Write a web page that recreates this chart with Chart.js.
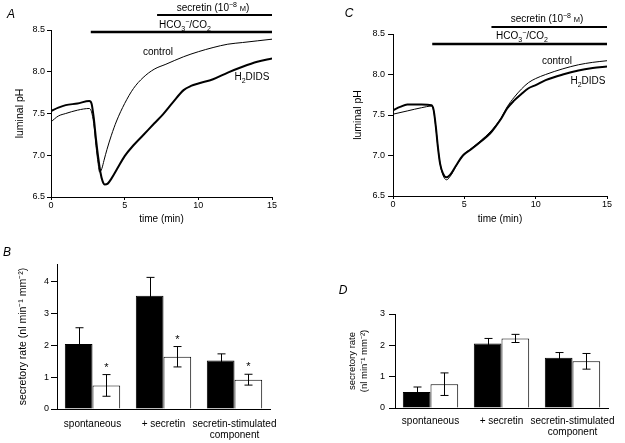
<!DOCTYPE html>
<html>
<head>
<meta charset="utf-8">
<script src="https://cdn.jsdelivr.net/npm/chart.js@4.4.1/dist/chart.umd.min.js"></script>
<style>
  body { margin: 0; background: #fff; }
  #fig { position: relative; width: 625px; height: 443px; font-family: 'Liberation Sans', Arial, sans-serif; color: #000; overflow: hidden; }
  canvas { position: absolute; }
  .lbl { position: absolute; transform: translate(-50%, -50%); white-space: nowrap; font-size: 10px; line-height: 1; }
  .panel { position: absolute; transform: translate(-50%, -50%); font-size: 12px; font-style: italic; line-height: 1; }
  sub, sup { font-size: 70%; line-height: 0; }
  .sc { font-size: 75%; }
</style>
</head>
<body>
<div id="fig">
  <canvas id="chartA" width="310" height="230" style="left:0;top:0"></canvas>
  <canvas id="chartC" width="315" height="230" style="left:310px;top:0"></canvas>
  <canvas id="chartB" width="310" height="203" style="left:0;top:240px"></canvas>
  <canvas id="chartD" width="305" height="203" style="left:320px;top:240px"></canvas>

  <div class="panel" style="left:11px;top:14px">A</div>
  <div class="panel" style="left:349px;top:13px">C</div>
  <div class="panel" style="left:7px;top:252px">B</div>
  <div class="panel" style="left:343px;top:290px">D</div>

  <div class="lbl" style="left:213px;top:8px">secretin (10<sup>−8</sup> <span class="sc">M</span>)</div>
  <div class="lbl" style="left:185px;top:25px">HCO<sub>3</sub><sup>−</sup>/CO<sub>2</sub></div>
  <div class="lbl" style="left:158px;top:52px">control</div>
  <div class="lbl" style="left:252px;top:77px">H<sub>2</sub>DIDS</div>

  <div class="lbl" style="left:547px;top:19px">secretin (10<sup>−8</sup> <span class="sc">M</span>)</div>
  <div class="lbl" style="left:522px;top:36px">HCO<sub>3</sub><sup>−</sup>/CO<sub>2</sub></div>
  <div class="lbl" style="left:557px;top:61px">control</div>
  <div class="lbl" style="left:588px;top:81px">H<sub>2</sub>DIDS</div>
</div>
<script>
// panel A traces
const tA_control = [0, 0.5, 1, 1.8, 2.6, 2.75, 2.9, 3.05, 3.2, 3.3, 3.45, 3.6, 3.8, 4.1, 4.45, 5, 5.6, 6.25, 7, 7.8, 9, 10, 11, 12, 13, 14, 15];
const phA_control = [7.40, 7.47, 7.50, 7.54, 7.56, 7.52, 7.38, 7.12, 6.90, 6.80, 6.84, 6.94, 7.07, 7.24, 7.41, 7.62, 7.80, 7.93, 8.03, 8.09, 8.18, 8.24, 8.29, 8.33, 8.35, 8.37, 8.39];
const tA_dids = [0, 0.5, 1, 1.8, 2.6, 2.75, 2.9, 3.05, 3.2, 3.35, 3.5, 3.65, 3.85, 4.1, 4.5, 5, 5.6, 6.25, 7, 7.6, 8.3, 9, 9.5, 10, 11, 12, 13, 14, 15];
const phA_dids = [7.53, 7.57, 7.60, 7.62, 7.65, 7.62, 7.45, 7.20, 6.98, 6.80, 6.69, 6.65, 6.66, 6.72, 6.84, 6.99, 7.12, 7.24, 7.38, 7.49, 7.64, 7.78, 7.83, 7.86, 7.91, 7.99, 8.06, 8.12, 8.16];

// panel C traces
const tC_control = [0, 1, 2, 2.7, 2.85, 3.0, 3.15, 3.3, 3.5, 3.75, 4.0, 4.4, 4.9, 5.5, 6.2, 6.8, 7.2, 7.6, 8.0, 8.5, 9, 9.5, 10, 10.7, 11.9, 13, 14, 15];
const phC_control = [7.51, 7.55, 7.59, 7.61, 7.55, 7.35, 7.10, 6.90, 6.76, 6.70, 6.74, 6.86, 7.00, 7.09, 7.19, 7.29, 7.37, 7.47, 7.60, 7.72, 7.82, 7.90, 7.95, 8.00, 8.07, 8.12, 8.15, 8.17];
const tC_dids = [0, 0.5, 1, 2, 2.7, 2.85, 3.0, 3.15, 3.3, 3.5, 3.75, 4.0, 4.4, 4.9, 5.5, 6.2, 6.8, 7.2, 7.6, 8.0, 8.5, 9, 9.5, 10, 10.7, 11.9, 13, 14, 15];
const phC_dids = [7.56, 7.60, 7.63, 7.63, 7.62, 7.56, 7.36, 7.10, 6.90, 6.78, 6.73, 6.76, 6.87, 7.00, 7.08, 7.18, 7.27, 7.36, 7.46, 7.58, 7.68, 7.76, 7.83, 7.87, 7.93, 8.00, 8.05, 8.08, 8.10];

const timeTicks = [0, 5, 10, 15];
const phTicks = [6.5, 7.0, 7.5, 8.0, 8.5];

// perfusion periods (min)
const hco3A = [2.7, 15];
const secretinA = [7.2, 15];
const hco3C = [2.75, 15];
const secretinC = [6.9, 15];

// secretory rates
const categories = ['spontaneous', '+ secretin', ['secretin-stimulated', 'component']];
const rateB_control = [2.04, 3.55, 1.52];
const semB_control = [0.51, 0.58, 0.21];
const rateB_dids = [0.74, 1.64, 0.92];
const semB_dids = [0.34, 0.32, 0.17];
const starsB = [true, true, true];
const rateTicksB = [0, 1, 2, 3, 4];

const rateD_control = [0.51, 2.06, 1.60];
const semD_control = [0.16, 0.16, 0.17];
const rateD_dids = [0.76, 2.22, 1.49];
const semD_dids = [0.36, 0.13, 0.25];
const rateTicksD = [0, 1, 2, 3];

Chart.defaults.font.family = "'Liberation Sans', Arial, sans-serif";
Chart.defaults.color = '#000';
Chart.defaults.animation = false;

const periodBars = {
  id: 'periodBars',
  afterDatasetsDraw(chart, args, opts) {
    const ctx = chart.ctx;
    const x = chart.scales.x;
    ctx.save();
    ctx.strokeStyle = '#000';
    opts.bars.forEach(b => {
      ctx.lineWidth = b.width;
      ctx.beginPath();
      ctx.moveTo(x.getPixelForValue(b.range[0]), b.y);
      ctx.lineTo(x.getPixelForValue(b.range[1]), b.y);
      ctx.stroke();
    });
    ctx.restore();
  }
};

const errorBars = {
  id: 'errorBars',
  afterDatasetsDraw(chart) {
    const ctx = chart.ctx;
    const y = chart.scales.y;
    ctx.save();
    ctx.strokeStyle = '#000';
    ctx.fillStyle = '#000';
    ctx.lineWidth = 1;
    chart.data.datasets.forEach((ds, i) => {
      chart.getDatasetMeta(i).data.forEach((bar, j) => {
        const top = y.getPixelForValue(ds.data[j] + ds.sem[j]);
        const bot = y.getPixelForValue(ds.data[j] - ds.sem[j]);
        const cx = Math.round(bar.x) + 0.5;
        ctx.beginPath();
        ctx.moveTo(cx, top); ctx.lineTo(cx, bot);
        ctx.moveTo(cx - 4, top); ctx.lineTo(cx + 4, top);
        ctx.moveTo(cx - 4, bot); ctx.lineTo(cx + 4, bot);
        ctx.stroke();
        if (ds.stars && ds.stars[j]) {
          ctx.font = "11px 'Liberation Sans', Arial, sans-serif";
          ctx.textAlign = 'center';
          ctx.textBaseline = 'middle';
          ctx.fillText('*', cx, top - 7);
        }
      });
    });
    ctx.restore();
  }
};

function xy(ts, vs) {
  return ts.map((t, i) => ({ x: t, y: vs[i] }));
}

function phChart(id, ctrl, dids, pad, yWidth, bars) {
  return new Chart(document.getElementById(id), {
    type: 'line',
    data: {
      datasets: [
        { label: 'control', data: ctrl, borderColor: '#000', borderWidth: 1, pointRadius: 0, cubicInterpolationMode: 'monotone' },
        { label: 'H2DIDS', data: dids, borderColor: '#000', borderWidth: 2, pointRadius: 0, cubicInterpolationMode: 'monotone' }
      ]
    },
    options: {
      responsive: false,
      layout: { padding: pad },
      plugins: { legend: { display: false }, tooltip: { enabled: false }, periodBars: { bars: bars } },
      scales: {
        x: {
          type: 'linear', min: 0, max: 15,
          afterBuildTicks: s => { s.ticks = timeTicks.map(v => ({ value: v })); },
          afterFit: s => { s.height = 230 - pad.top - pad.chartH; },
          grid: { drawOnChartArea: false, tickLength: 3, color: '#000' },
          border: { color: '#000' },
          ticks: { font: { size: 9 }, padding: 0 },
          title: { display: true, text: 'time (min)', font: { size: 10 }, padding: { top: 0, bottom: 5 } }
        },
        y: {
          min: 6.5, max: 8.5,
          afterBuildTicks: s => { s.ticks = phTicks.map(v => ({ value: v })); },
          afterFit: s => { s.width = yWidth; },
          grid: { drawOnChartArea: false, tickLength: pad.tick, color: '#000' },
          border: { color: '#000' },
          ticks: { font: { size: 9 }, padding: pad.tickPad, callback: v => v.toFixed(1) },
          title: { display: true, text: 'luminal pH', font: { size: 10.5 }, padding: { top: 14, bottom: 0 } }
        }
      }
    },
    plugins: [periodBars]
  });
}

phChart('chartA', xy(tA_control, phA_control), xy(tA_dids, phA_dids),
  { top: 30, right: 38, left: 0, bottom: 0, chartH: 167, tick: 4, tickPad: 2 }, 51,
  [{ range: hco3A, y: 32, width: 2.5 }, { range: secretinA, y: 15, width: 2 }]);

phChart('chartC', xy(tC_control, phC_control), xy(tC_dids, phC_dids),
  { top: 34, right: 18, left: 28, bottom: 0, chartH: 162, tick: 5, tickPad: 3 }, 55,
  [{ range: hco3C, y: 44, width: 2.5 }, { range: secretinC, y: 27, width: 2 }]);

function rateChart(id, ctrl, ctrlSem, dids, didsSem, stars, yTicks, yMax, cfg) {
  return new Chart(document.getElementById(id), {
    type: 'bar',
    data: {
      labels: categories,
      datasets: [
        { label: 'control', data: ctrl, sem: ctrlSem, backgroundColor: '#000', borderColor: '#000', borderWidth: 1,
          categoryPercentage: 0.78, barPercentage: 1 },
        { label: 'H2DIDS', data: dids, sem: didsSem, stars: stars, backgroundColor: '#fff', borderColor: '#000', borderWidth: 1,
          categoryPercentage: 0.78, barPercentage: 1 }
      ]
    },
    options: {
      responsive: false,
      layout: { padding: cfg.pad },
      plugins: { legend: { display: false }, tooltip: { enabled: false } },
      scales: {
        x: {
          afterFit: s => { s.height = cfg.xHeight; },
          grid: { display: false },
          border: { display: true, color: '#000' },
          ticks: { font: { size: 10, lineHeight: 1.05 }, padding: cfg.xPad, maxRotation: 0, autoSkip: false }
        },
        y: {
          min: 0, max: yMax,
          afterBuildTicks: s => { s.ticks = yTicks.map(v => ({ value: v })); },
          afterFit: s => { s.width = cfg.yWidth; },
          grid: { drawOnChartArea: false, tickLength: 6, color: '#000' },
          border: { color: '#000' },
          ticks: { font: { size: 9 }, padding: cfg.yPad },
          title: { display: true, text: cfg.title, font: { size: cfg.titleSize }, padding: { top: cfg.titlePad, bottom: 0 } }
        }
      }
    },
    plugins: [errorBars]
  });
}

rateChart('chartB', rateB_control, semB_control, rateB_dids, semB_dids, starsB, rateTicksB, 4.55,
  { pad: { top: 24, right: 40, left: 0, bottom: 0 }, xHeight: 34, xPad: 2, yWidth: 57, yPad: 2,
    title: 'secretory rate (nl min⁻¹ mm⁻²)', titleSize: 10.5, titlePad: 16.5 });

rateChart('chartD', rateD_control, semD_control, rateD_dids, semD_dids, null, rateTicksD, 3,
  { pad: { top: 74, right: 17, left: 0, bottom: 0 }, xHeight: 35, xPad: 0, yWidth: 75, yPad: 4,
    title: ['secretory rate', '(nl min⁻¹ mm⁻²)'], titleSize: 9.5, titlePad: 27 });
</script>
</body>
</html>
